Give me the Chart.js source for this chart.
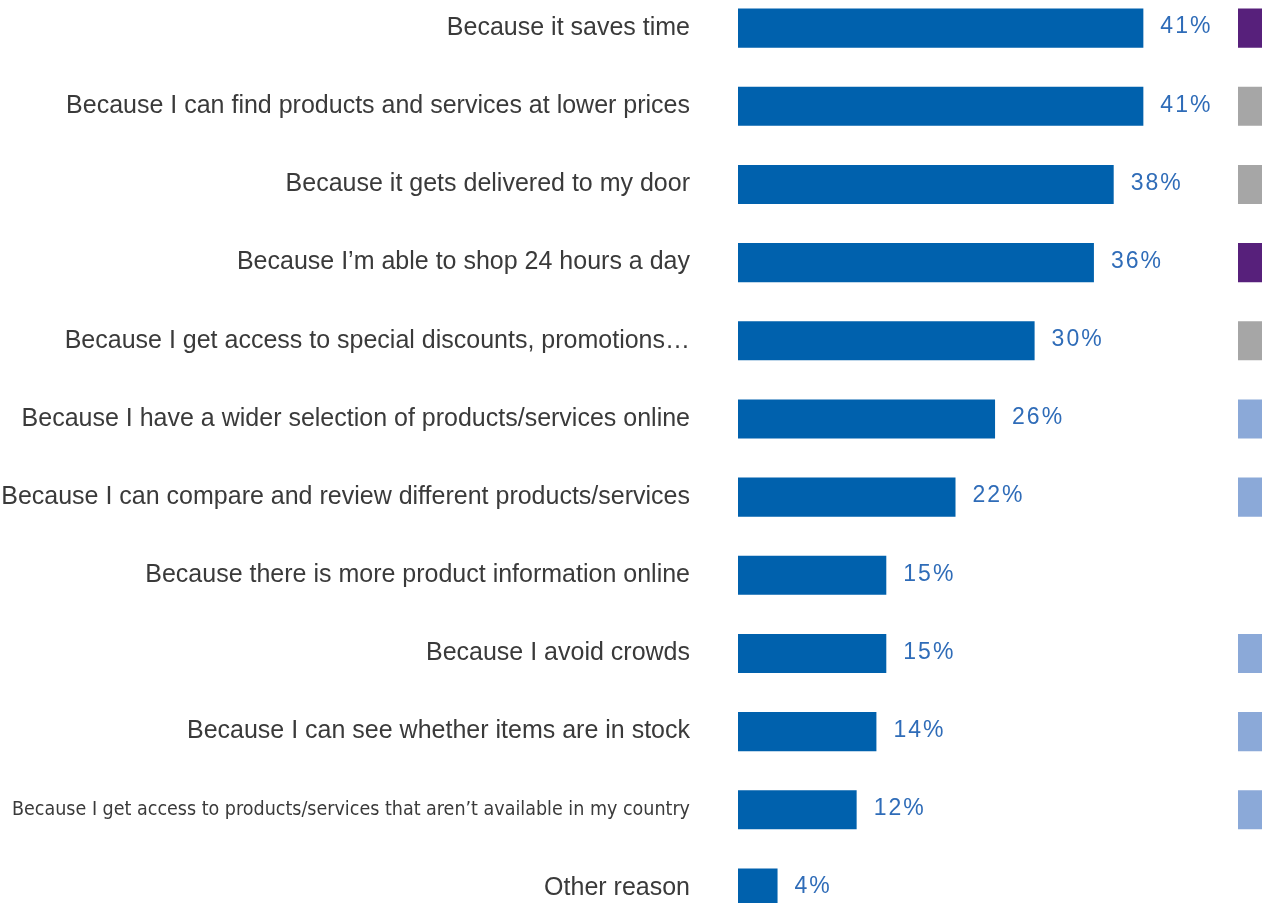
<!DOCTYPE html>
<html>
<head>
<meta charset="utf-8">
<script src="https://cdn.jsdelivr.net/npm/chart.js@4"></script>
<style>
  html, body { margin: 0; padding: 0; background: #fff; overflow: hidden; }
  #wrap { position: relative; width: 1262px; height: 903px; overflow: hidden; }
  #mainChart { position: absolute; left: 0; top: -11px; }
  #sideChart { position: absolute; left: 1238px; top: -11px; }
</style>
</head>
<body>
<div id="wrap">
  <canvas id="mainChart" width="1262" height="938"></canvas>
  <canvas id="sideChart" width="200" height="938"></canvas>
</div>
<script>
const reasons = [
  "Because it saves time",
  "Because I can find products and services at lower prices",
  "Because it gets delivered to my door",
  "Because I\u2019m able to shop 24 hours a day",
  "Because I get access to special discounts, promotions\u2026",
  "Because I have a wider selection of products/services online",
  "Because I can compare and review different products/services",
  "Because there is more product information online",
  "Because I avoid crowds",
  "Because I can see whether items are in stock",
  "Because I get access to products/services that aren\u2019t available in my country",
  "Other reason"
];
const shares = [41, 41, 38, 36, 30, 26, 22, 15, 15, 14, 12, 4];

// the neighbouring panel, cut off at the right edge of the picture
const sideValues = [40, 40, 40, 40, 40, 40, 40, null, 40, 40, 40, null];
const sideColors = ["#57207b", "#a6a6a6", "#a6a6a6", "#57207b", "#a6a6a6", "#8ba9d8",
  "#8ba9d8", "#8ba9d8", "#8ba9d8", "#8ba9d8", "#8ba9d8", "#8ba9d8"];

const barBlue = "#0061ad";
const valueBlue = "#2f6cb8";
const labelGrey = "#3a3a3a";

// percent labels after each bar
const valueLabels = {
  id: "valueLabels",
  afterDatasetsDraw(chart) {
    const ctx = chart.ctx;
    const meta = chart.getDatasetMeta(0);
    ctx.save();
    ctx.font = "23px 'Liberation Sans', Arial, sans-serif";
    ctx.letterSpacing = "2px";
    ctx.fillStyle = valueBlue;
    ctx.textAlign = "left";
    ctx.textBaseline = "middle";
    meta.data.forEach((bar, i) => {
      ctx.fillText(shares[i] + "%", bar.x + 17, bar.y - 1);
    });
    ctx.restore();
  }
};

new Chart(document.getElementById("mainChart"), {
  type: "bar",
  data: {
    labels: reasons,
    datasets: [{
      data: shares,
      backgroundColor: barBlue,
      borderWidth: 0,
      barPercentage: 0.5,
      categoryPercentage: 1
    }]
  },
  options: {
    indexAxis: "y",
    responsive: false,
    animation: false,
    devicePixelRatio: 1,
    layout: { padding: 0 },
    plugins: {
      legend: { display: false },
      tooltip: { enabled: false }
    },
    scales: {
      x: { display: false, min: 0, max: 53 },
      y: {
        grid: { display: false, drawTicks: false },
        border: { display: false },
        afterFit(scale) {
          scale.width = 738;
          scale.paddingTop = 0;
          scale.paddingBottom = 0;
        },
        ticks: {
          padding: 48,
          color: labelGrey,
          font: (ctx) => ctx.index === 10
            ? { family: "'DejaVu Sans Condensed', sans-serif", size: 19.5 }
            : { family: "'Liberation Sans', Arial, sans-serif", size: 25 }
        }
      }
    }
  },
  plugins: [valueLabels]
});

new Chart(document.getElementById("sideChart"), {
  type: "bar",
  data: {
    labels: reasons,
    datasets: [{
      data: sideValues,
      backgroundColor: sideColors,
      borderWidth: 0,
      barPercentage: 0.5,
      categoryPercentage: 1
    }]
  },
  options: {
    indexAxis: "y",
    responsive: false,
    animation: false,
    devicePixelRatio: 1,
    layout: { padding: 0 },
    plugins: { legend: { display: false }, tooltip: { enabled: false } },
    scales: {
      x: { display: false, min: 0, max: 45 },
      y: { display: false }
    }
  }
});
</script>
</body>
</html>
